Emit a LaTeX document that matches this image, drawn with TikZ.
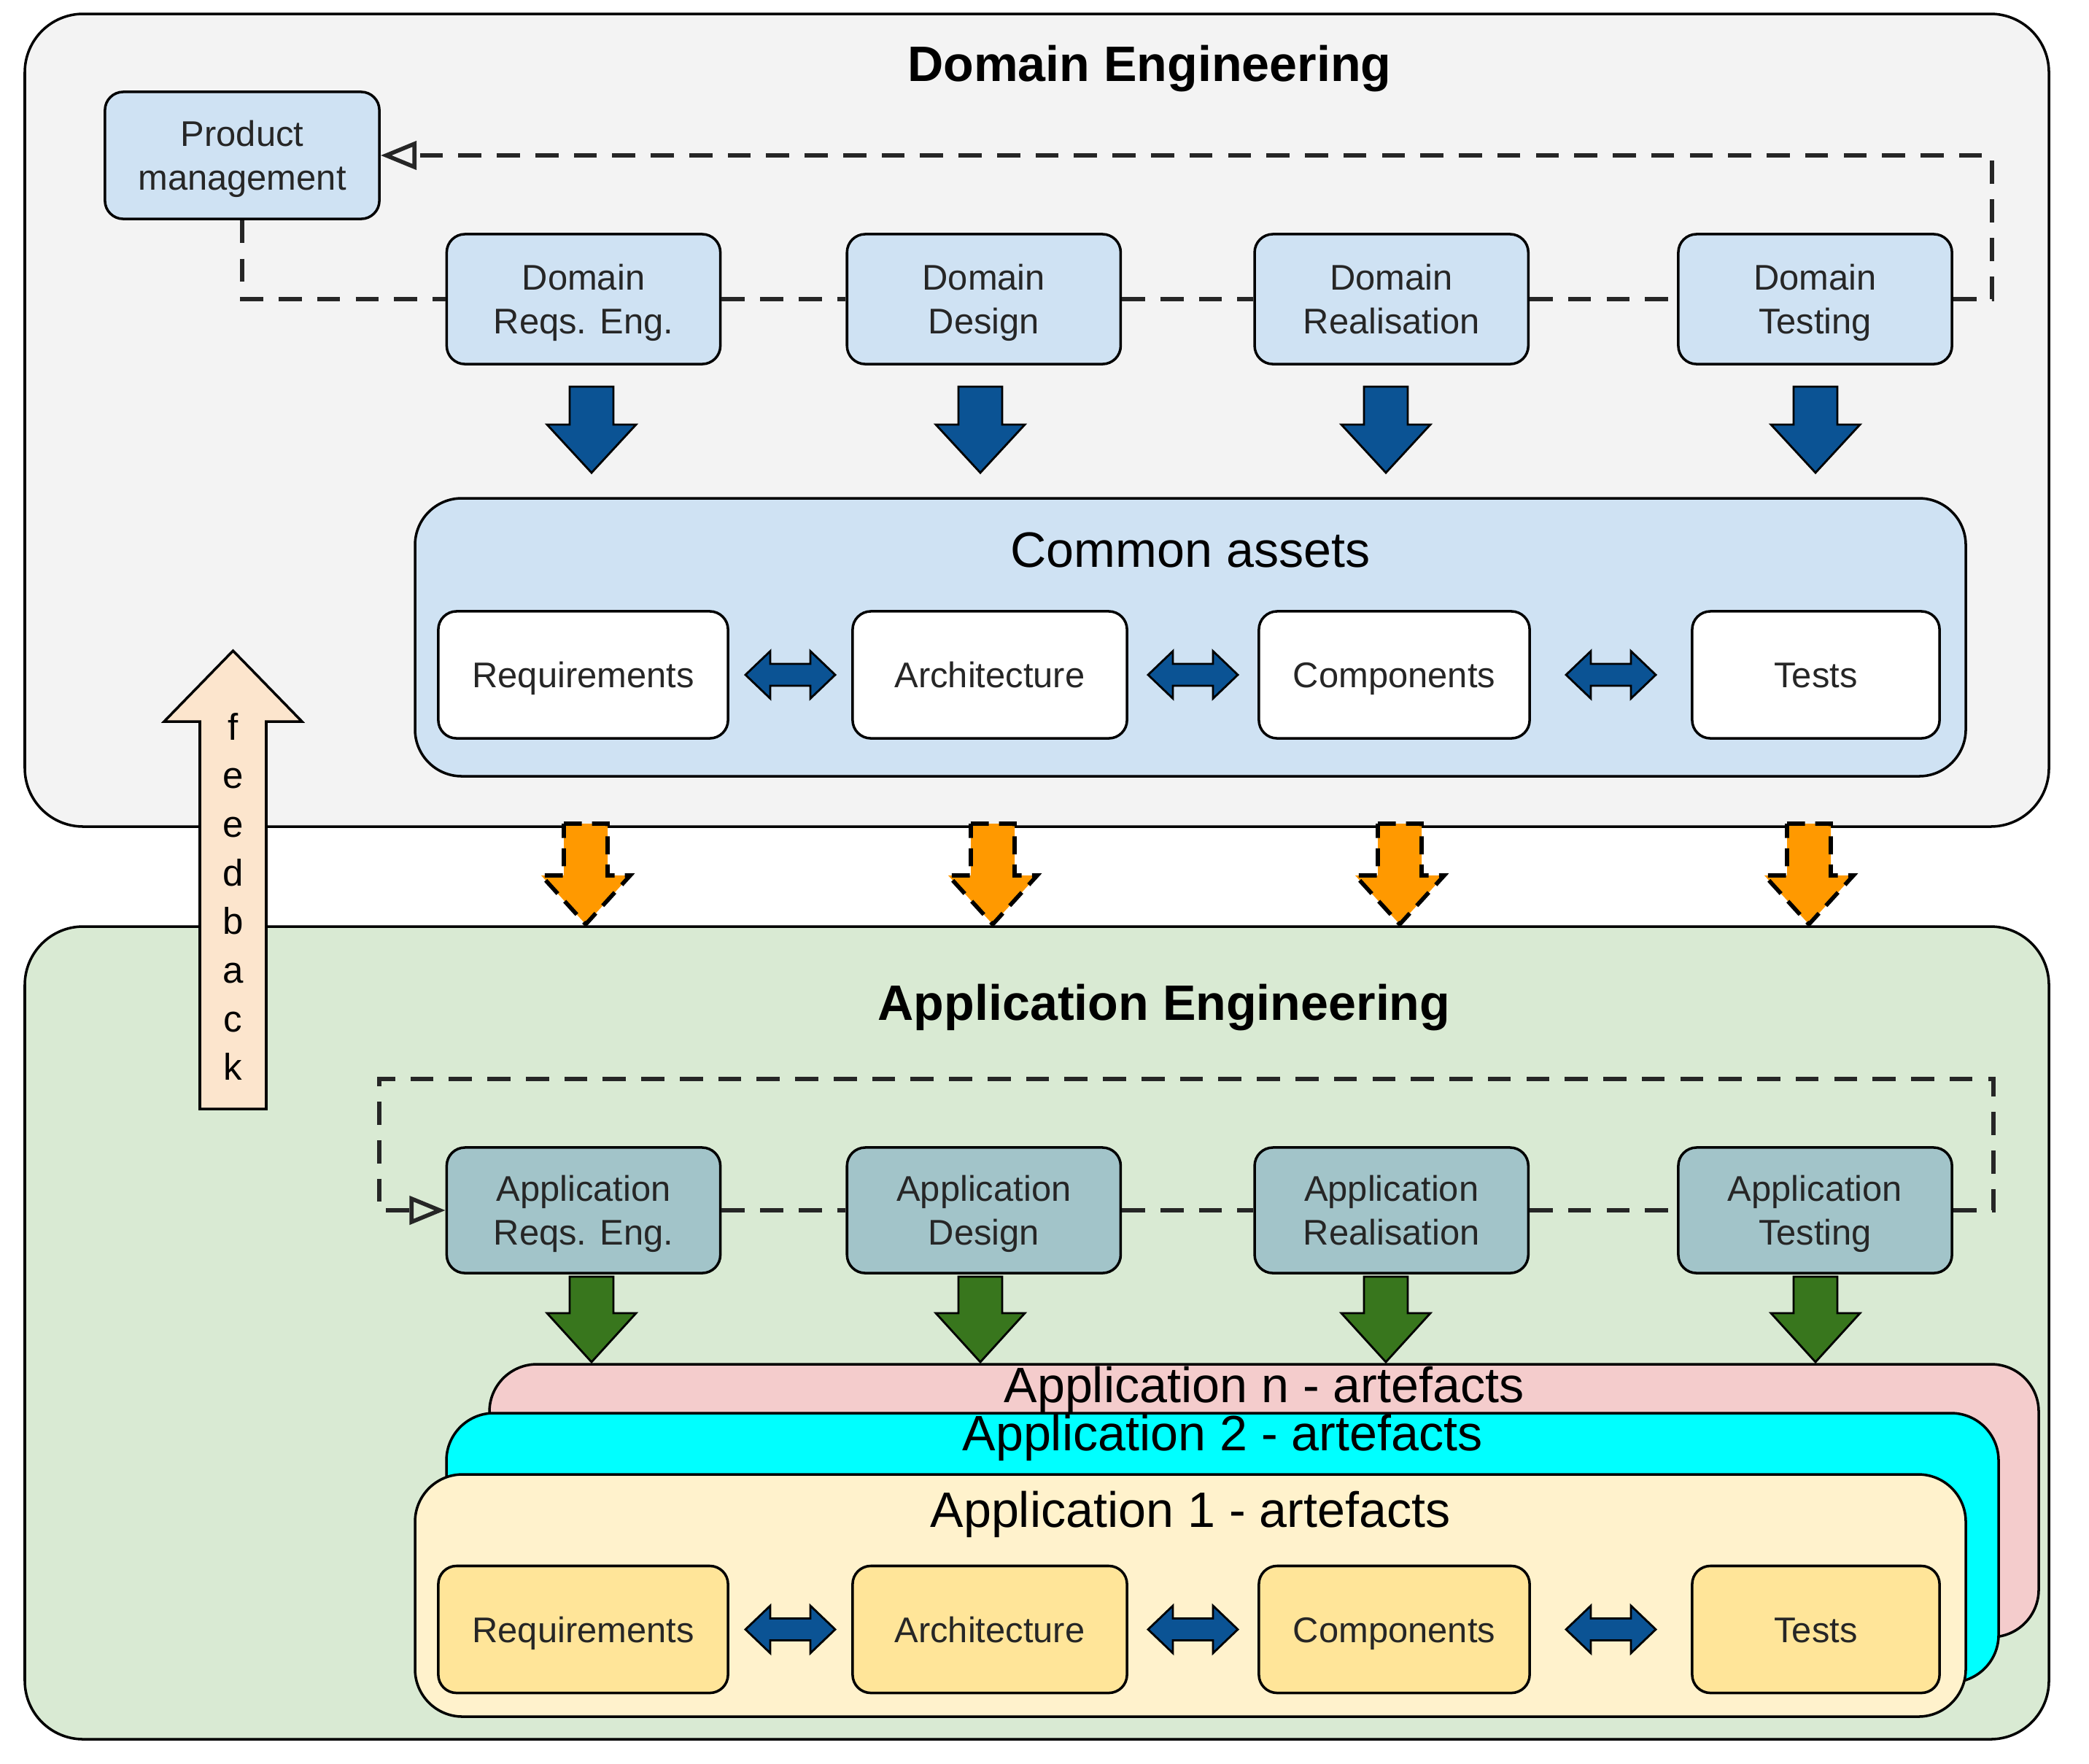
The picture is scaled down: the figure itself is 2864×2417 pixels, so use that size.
\documentclass[tikz,border=0pt]{standalone}
\usepackage{fontspec}
\setmainfont{Liberation Sans}
\usetikzlibrary{arrows.meta,positioning,calc}

\definecolor{domgray}{HTML}{F3F3F3}
\definecolor{domblue}{HTML}{CFE2F3}
\definecolor{arrowblue}{HTML}{0B5394}
\definecolor{appgreen}{HTML}{D9EAD3}
\definecolor{appgray}{HTML}{A2C4C9}
\definecolor{arrowgreen}{HTML}{38761D}
\definecolor{arroworange}{HTML}{FF9900}
\definecolor{appn}{HTML}{F4CCCC}
\definecolor{apptwo}{HTML}{00FFFF}
\definecolor{appone}{HTML}{FFF2CC}
\definecolor{artyellow}{HTML}{FFE599}
\definecolor{peach}{HTML}{FCE5CD}

\begin{document}
\begin{tikzpicture}[x=0.01cm,y=-0.01cm,
  stage/.style={draw,rounded corners=0.25cm,line width=1pt,minimum width=3.75cm,align=center,
    text depth=0pt,text=black!85,font=\fontsize{13.9}{17}\selectfont},
  dstage/.style={stage,fill=domblue,minimum height=1.78cm},
  astage/.style={stage,fill=appgray,minimum height=1.72cm},
  artefact/.style={draw,rounded corners=0.25cm,line width=1pt,minimum height=1.74cm,
    text height=10pt,text depth=0pt,text=black!85,font=\fontsize{13.9}{17}\selectfont},
  areatitle/.style={anchor=base,font=\fontsize{19.4}{23}\selectfont\bfseries},
  assethead/.style={anchor=base,font=\fontsize{19.4}{23}\selectfont},
  container/.style={draw,line width=1pt},
  flow/.style={draw=black!85,line width=1.6pt,dash pattern=on 9pt off 6pt},
  backflow/.style={flow,-{Triangle[open,length=14pt,width=11pt]}},
  blockarrow/.style={draw,line width=0.8pt,fill=arrowblue},
  pics/blockdown/.style 2 args={code={
    \path[pic actions] (-30,0) -- (30,0) -- (30,#1) -- (61,#1) -- (0,#2) -- (-61,#1) -- (-30,#1) -- cycle;}},
  pics/blockboth/.style={code={
    \path[pic actions] (-61.5,0) -- (-27.5,-32.5) -- (-27.5,-15) -- (27.5,-15) -- (27.5,-32.5)
      -- (61.5,0) -- (27.5,32.5) -- (27.5,15) -- (-27.5,15) -- (-27.5,32.5) -- cycle;}}]

  \useasboundingbox[fill=white] (0,0) rectangle (2864,2417);

  % domain engineering
  \draw[container,fill=domgray,rounded corners=0.8cm] (34,19) rectangle (2809,1133);
  \node[areatitle] (domtitle) at (1576,111) {Domain Engineering};

  \node[dstage,minimum width=3.76cm,minimum height=1.74cm] (pm) at (332,213) {Product\\management};
  \node[dstage] (dreq) at (800,410) {Domain\\Reqs. Eng.};
  \node[dstage,right=1.7cm of dreq] (ddes) {Domain\\Design};
  \node[dstage,right=1.8cm of ddes] (dreal) {Domain\\Realisation};
  \node[dstage,right=2.02cm of dreal] (dtest) {Domain\\Testing};

  \draw[flow] (pm.south) |- (dreq.west);
  \draw[flow] (dreq.east) -- (ddes.west);
  \draw[flow] (ddes.east) -- (dreal.west);
  \draw[flow] (dreal.east) -- (dtest.west);
  \coordinate (dturn) at (2731,410);
  \draw[backflow] (dtest.east) -- (dturn) |- (pm.east);

  \foreach \x in {811,1344,1900,2489}
    \pic[blockarrow] at (\x,530) {blockdown={52}{118}};

  \draw[container,fill=domblue,rounded corners=0.64cm] (569,683) rectangle (2695,1064);
  \node[assethead] (cahead) at (1632,777) {Common assets};
  \foreach \n/\t/\x/\w in {req/Requirements/799.5/3.97cm, arch/Architecture/1357/3.76cm,
      comp/Components/1911.5/3.71cm, test/Tests/2489.5/3.39cm}
    \node[artefact,fill=white,minimum width=\w] (c\n) at (\x,925) {\t};
  \pic[blockarrow] at ($(creq.east)!.5!(carch.west)$) {blockboth};
  \pic[blockarrow] at ($(carch.east)!.5!(ccomp.west)$) {blockboth};
  \pic[blockarrow] at ($(ccomp.east)!.5!(ctest.west)$) {blockboth};

  % application engineering
  \draw[container,fill=appgreen,rounded corners=0.8cm] (34,1270) rectangle (2809,2384);
  \node[areatitle] (apptitle) at (1596,1398) {Application Engineering};

  \node[astage] (areq) at (800,1659) {Application\\Reqs. Eng.};
  \node[astage,right=1.7cm of areq] (ades) {Application\\Design};
  \node[astage,right=1.8cm of ades] (areal) {Application\\Realisation};
  \node[astage,right=2.02cm of areal] (atest) {Application\\Testing};

  \draw[flow] (areq.east) -- (ades.west);
  \draw[flow] (ades.east) -- (areal.west);
  \draw[flow] (areal.east) -- (atest.west);
  \coordinate (aturn) at (2733,1659);
  \coordinate (aloop) at (520,1479);
  \draw[backflow] (atest.east) -- (aturn) |- (aloop) |- (areq.west);

  \foreach \x in {811,1344,1900,2489}
    \pic[blockarrow,fill=arrowgreen] at (\x,1750) {blockdown={50}{117}};

  \draw[container,fill=appn,rounded corners=0.65cm] (671,1870) rectangle (2795,2244);
  \node[assethead] (appnhead) at (1733,1922) {Application n - artefacts};
  \draw[container,fill=apptwo,rounded corners=0.65cm] (612,1937) rectangle (2740,2306);
  \node[assethead] (apptwohead) at (1676,1988) {Application 2 - artefacts};
  \draw[container,fill=appone,rounded corners=0.65cm] (569,2021) rectangle (2695,2353);
  \node[assethead] (appionehead) at (1632,2093) {Application 1 - artefacts};

  \foreach \n/\t/\x/\w in {req/Requirements/799.5/3.97cm, arch/Architecture/1357/3.76cm,
      comp/Components/1911.5/3.71cm, test/Tests/2489.5/3.39cm}
    \node[artefact,fill=artyellow,minimum width=\w] (y\n) at (\x,2233.5) {\t};
  \pic[blockarrow] at ($(yreq.east)!.5!(yarch.west)$) {blockboth};
  \pic[blockarrow] at ($(yarch.east)!.5!(ycomp.west)$) {blockboth};
  \pic[blockarrow] at ($(ycomp.east)!.5!(ytest.west)$) {blockboth};

  % between the two areas
  \foreach \x in {803,1361,1919,2480}
    \pic[draw,fill=arroworange,line width=1.6pt,dash pattern=on 7pt off 4pt] at (\x,1129) {blockdown={71}{138}};

  \draw[line width=1pt,fill=peach] (319.5,892) -- (414,989) -- (365,989) -- (365,1520)
    -- (274,1520) -- (274,989) -- (225,989) -- cycle;
  \foreach \l [count=\i] in {f,e,e,d,b,a,c,k}
    \node[anchor=base,font=\fontsize{14.5}{17}\selectfont] (fb\i) at (319.5,{1014+66.7*(\i-1)}) {\l};
\end{tikzpicture}
\end{document}
